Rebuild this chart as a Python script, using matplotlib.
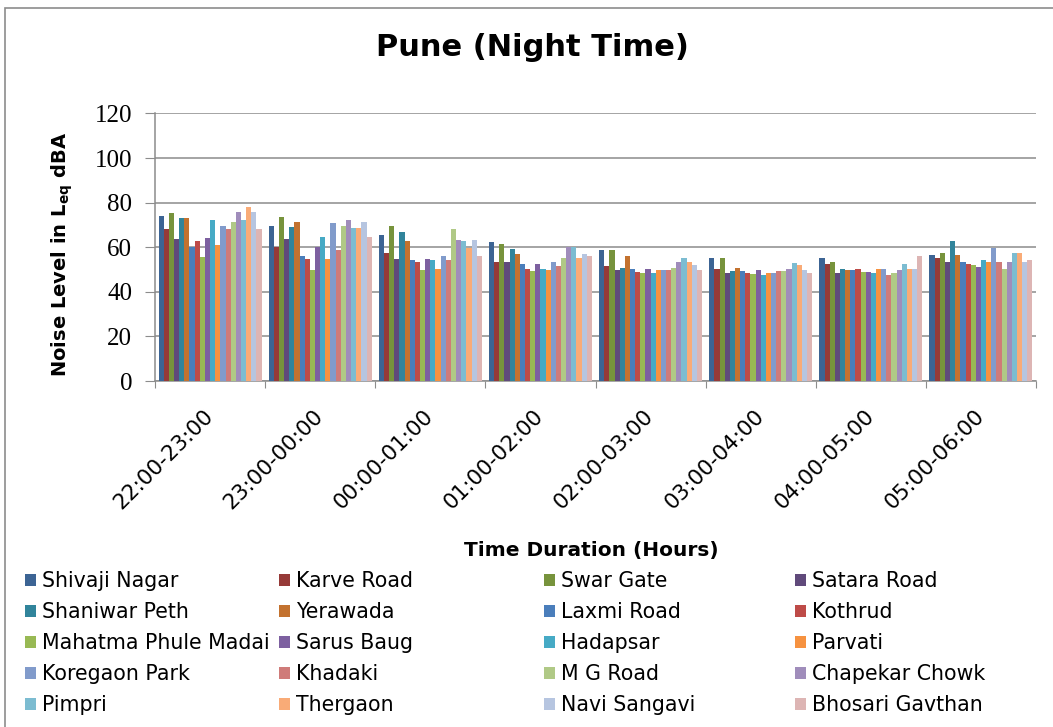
import numpy as np
import matplotlib.pyplot as plt
from matplotlib.patches import Rectangle

#-----------------------------------
# Data
#-----------------------------------
timeSlots = ['22:00-23:00', '23:00-00:00', '00:00-01:00', '01:00-02:00',
             '02:00-03:00', '03:00-04:00', '04:00-05:00', '05:00-06:00']

locations = ['Shivaji Nagar', 'Karve Road', 'Swar Gate', 'Satara Road',
             'Shaniwar Peth', 'Yerawada', 'Laxmi Road', 'Kothrud',
             'Mahatma Phule Madai', 'Sarus Baug', 'Hadapsar', 'Parvati',
             'Koregaon Park', 'Khadaki', 'M G Road', 'Chapekar Chowk',
             'Pimpri', 'Thergaon', 'Navi Sangavi', 'Bhosari Gavthan']

# one row per time slot, one column per location
slot22 = [74.2, 68.0, 75.2, 63.5, 73.0, 73.0, 60.1, 63.0, 55.8, 64.2,
          72.0, 60.8, 69.7, 68.0, 71.4, 75.8, 72.4, 77.9, 75.8, 68.0]
slot23 = [69.6, 59.9, 73.6, 63.5, 69.1, 71.4, 55.9, 54.7, 49.8, 59.9,
          64.7, 54.7, 70.8, 58.7, 69.7, 72.0, 68.5, 68.5, 71.4, 64.7]
slot00 = [65.3, 57.5, 69.6, 54.7, 66.8, 63.0, 54.1, 53.6, 49.6, 54.7,
          54.1, 50.2, 55.9, 54.1, 68.4, 63.4, 63.0, 59.7, 63.4, 55.9]
slot01 = [62.5, 53.6, 61.3, 53.6, 59.1, 57.0, 52.6, 50.2, 49.2, 52.6,
          50.2, 49.6, 53.6, 51.4, 55.3, 60.0, 60.0, 55.3, 57.0, 55.9]
slot02 = [58.7, 51.4, 58.7, 49.8, 50.8, 55.9, 50.3, 49.0, 48.6, 50.3,
          48.6, 49.8, 49.8, 49.8, 50.8, 53.6, 55.3, 53.6, 52.0, 49.8]
slot03 = [55.3, 50.2, 55.3, 48.6, 49.2, 50.8, 49.2, 48.6, 48.1, 49.8,
          47.5, 48.6, 48.6, 49.2, 49.2, 50.2, 53.0, 52.0, 49.8, 48.6]
slot04 = [55.1, 52.4, 53.5, 48.4, 50.1, 49.6, 49.6, 50.1, 49.0, 49.0,
          48.4, 50.1, 50.1, 47.4, 48.4, 49.6, 52.4, 50.1, 50.1, 56.3]
slot05 = [56.7, 55.1, 57.3, 53.5, 62.8, 56.7, 53.5, 52.4, 51.9, 51.3,
          54.1, 53.5, 59.7, 53.5, 50.1, 53.5, 57.3, 57.3, 53.5, 54.5]

levels = np.array([slot22, slot23, slot00, slot01, slot02, slot03, slot04, slot05])

colors = ['#3C6494', '#963A38', '#77933C', '#604A7B', '#31849B', '#C3722F',
          '#4A7EBB', '#BE4B48', '#98B954', '#7D60A0', '#46AAC5', '#F69240',
          '#819BCB', '#CF7B79', '#B0C986', '#A08DBB', '#7CBCD1', '#F9AB77',
          '#B6C5E0', '#DDB5B4']

# --------------------------------
# Drawing
# --------------------------------
fig = plt.figure(figsize=(10.53, 7.27), dpi=100)
ax = fig.add_axes([0.1472, 0.4759, 0.8367, 0.368])

nbrLoc = len(locations)
barWidth = 0.935 / nbrLoc
xpos = np.arange(len(timeSlots))
handles = []
for i in range(nbrLoc):
    b = ax.bar(xpos + (i - (nbrLoc - 1) / 2.) * barWidth, levels[:, i], barWidth,
               color=colors[i], label=locations[i], linewidth=0, zorder=3)
    handles.append(b)

ax.set_xlim(-0.5, len(timeSlots) - 0.5)
ax.set_ylim(0, 120)
ax.set_yticks(range(0, 121, 20))
ax.yaxis.grid(True, color='#8C8C8C', linewidth=1.1, zorder=0)
for tl in ax.get_yticklabels():
    tl.set_fontfamily('Liberation Serif')
    tl.set_fontsize(18)
ax.tick_params(axis='y', length=7, color='#8C8C8C', pad=9.5)

ax.set_xticks(np.arange(-0.5, len(timeSlots), 1.0))
ax.set_xticklabels([])
ax.tick_params(axis='x', which='major', length=5, color='#8C8C8C')
ax.set_xticks(xpos, minor=True)
ax.set_xticklabels(timeSlots, minor=True, rotation=45, ha='right', va='center',
                   rotation_mode='anchor', fontsize=15.5)
ax.tick_params(axis='x', which='minor', length=0, pad=23)

for s in ['top', 'right']:
    ax.spines[s].set_visible(False)
for s in ['left', 'bottom']:
    ax.spines[s].set_color('#8C8C8C')
    ax.spines[s].set_linewidth(1.1)

fig.text(0.506, 0.935, 'Pune (Night Time)', ha='center', va='center',
         fontsize=22, fontweight='bold')
fig.text(0.059, 0.650, r'Noise Level in L$_{\mathbf{eq}}$ dBA', rotation=90,
         ha='center', va='center', fontsize=14, fontweight='bold')
fig.text(0.562, 0.243, 'Time Duration (Hours)', ha='center', va='center',
         fontsize=14.5, fontweight='bold')

# legend: 4 columns filled row by row, one legend per column
colX = [15, 269, 534, 785]
for j in range(4):
    idx = list(range(j, nbrLoc, 4))
    fig.legend([handles[k] for k in idx], [locations[k] for k in idx],
               loc='upper left', bbox_to_anchor=(colX[j] / 1053., 1 - 561 / 727.),
               ncol=1, frameon=False, fontsize=14.8, borderpad=0,
               handlelength=0.52, handleheight=0.52, handletextpad=0.3,
               labelspacing=0.53)

# chart border
fig.patches.append(Rectangle((5 / 1053., -0.05), 1.1, 1 - 8 / 727. + 0.05,
                             transform=fig.transFigure, fill=False,
                             edgecolor='#8C8C8C', linewidth=1.2))

plt.savefig('out.png', dpi=100)
